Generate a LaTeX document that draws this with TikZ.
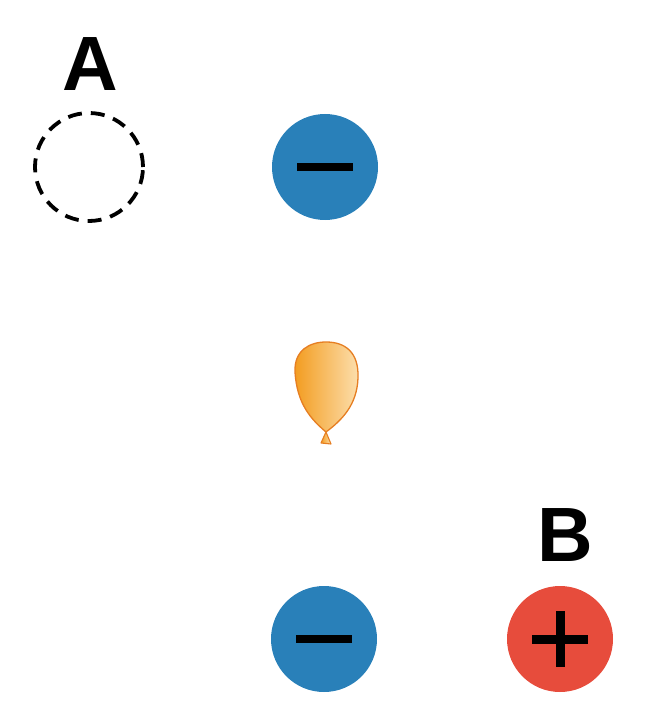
\documentclass[tikz,border=0pt]{standalone}
\usepackage{fontspec}
\setmainfont{Liberation Sans}
\definecolor{cblue}{HTML}{2980B9}
\definecolor{cred}{HTML}{E74C3C}
\definecolor{borange}{HTML}{E67E22}
\definecolor{bdark}{HTML}{F39C1F}
\definecolor{blight}{HTML}{FCDFAE}
\begin{document}
\begin{tikzpicture}[x=1pt,y=-1pt,
  charge/.style={circle,minimum size=106pt,inner sep=0pt},
  lbl/.style={font=\fontsize{77}{77}\selectfont\bfseries,inner sep=0pt}]
\useasboundingbox (0,0) rectangle (648,727);
\node[lbl] (la) at (90,64) {A};
\node[circle,minimum size=108pt,inner sep=0pt,draw=black,line width=3.8pt,dash pattern=on 14pt off 9pt] (pa) at (89,167) {};
\node[charge,fill=cblue] (m1) at (325,167) {};
\fill[black] ([xshift=-28pt,yshift=-4pt]m1.center) rectangle ([xshift=28pt,yshift=4pt]m1.center);
\node[charge,fill=cblue] (m2) at (324,639) {};
\fill[black] ([xshift=-28pt,yshift=-4pt]m2.center) rectangle ([xshift=28pt,yshift=4pt]m2.center);
\node[lbl] (lb) at (565,535) {B};
\node[charge,fill=cred] (pb) at (560,639) {};
\fill[black] ([xshift=-28pt,yshift=-4.5pt]pb.center) rectangle ([xshift=28pt,yshift=4.5pt]pb.center);
\fill[black] ([xshift=-4.5pt,yshift=-28pt]pb.center) rectangle ([xshift=4.5pt,yshift=28pt]pb.center);
% balloon
\path[left color=bdark,right color=blight,draw=borange,line width=1.3pt,line join=round]
  (326,432) .. controls (312,420) and (297,405) .. (295,372)
  .. controls (294,350) and (310,342) .. (326,342)
  .. controls (345,342) and (359,352) .. (358,378)
  .. controls (357,405) and (342,420) .. (326,432) -- cycle;
\path[left color=bdark,right color=blight,draw=borange,line width=1.1pt,line join=round]
  (326,432) -- (321,443) -- (331,444) -- cycle;
\end{tikzpicture}
\end{document}
